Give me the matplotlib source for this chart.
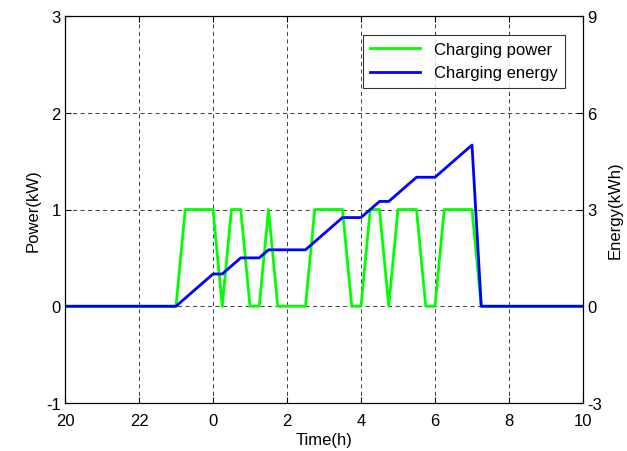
import numpy as np
import matplotlib
matplotlib.use("Agg")
import matplotlib.pyplot as plt

plt.rcParams["font.family"] = ["Liberation Sans", "DejaVu Sans"]
plt.rcParams["axes.unicode_minus"] = False

# time in hours (20:00 -> 10:00 next day), 15-min steps
t_hours = np.arange(20, 34.01, 0.25)
power_kw = [0]*13 + [1, 1, 1, 1] + [0] + [1, 1] + [0, 0] + [1] + [0]*4 + [1]*4 + \
           [0, 0] + [1, 1] + [0] + [1]*3 + [0, 0] + [1]*4 + [0]*12
energy_kwh = [0]*13 + [0.25, 0.5, 0.75, 1.0] + [1.0] + [1.25, 1.5] + [1.5, 1.5] + [1.75] + \
             [1.75]*4 + [2.0, 2.25, 2.5, 2.75] + [2.75, 2.75] + [3.0, 3.25] + [3.25] + \
             [3.5, 3.75, 4.0] + [4.0, 4.0] + [4.25, 4.5, 4.75, 5.0] + [0]*12
xtick_pos = [20, 22, 24, 26, 28, 30, 32, 34]
xtick_lab = ["20", "22", "0", "2", "4", "6", "8", "10"]

FS = 12
fig = plt.figure(figsize=(6.27, 4.52), dpi=100, facecolor="white")
ax = fig.add_axes([65/627, 48/452, 518/627, 387/452])
ax2 = ax.twinx()

l1, = ax.plot(t_hours, power_kw, color="#00ff00", lw=2, label="Charging power")
l2, = ax2.plot(t_hours, energy_kwh, color="#0000ff", lw=2, label="Charging energy")

ax.set_xlim(20, 34); ax.set_ylim(-1, 3)
ax2.set_ylim(-3, 9)
ax.set_xticks(xtick_pos); ax.set_xticklabels(xtick_lab)
ax.set_yticks([-1, 0, 1, 2, 3]); ax2.set_yticks([-3, 0, 3, 6, 9])
ax.grid(True, color="#222222", ls=(0, (5, 4)), lw=0.6)
ax.tick_params(direction="in", labelsize=FS, top=True, length=4, pad=3)
ax.tick_params(axis="x", pad=7)
ax2.tick_params(direction="in", labelsize=FS, length=4, pad=3)
for a in (ax, ax2):
    for sp in a.spines.values():
        sp.set_linewidth(0.8)

ax.set_xlabel("Time(h)", fontsize=FS, labelpad=3)
ax.set_ylabel("Power(kW)", fontsize=FS, labelpad=4)
ax2.set_ylabel("Energy(kWh)", fontsize=FS, labelpad=4)

leg = ax2.legend(handles=[l1, l2], loc="upper right", bbox_to_anchor=(0.965, 0.952),
                 fontsize=FS, frameon=True, fancybox=False, edgecolor="k",
                 handlelength=3, borderpad=0.45, labelspacing=0.5, borderaxespad=0)
leg.get_frame().set_linewidth(0.8)

plt.savefig("out.png", dpi=100, facecolor="white")
